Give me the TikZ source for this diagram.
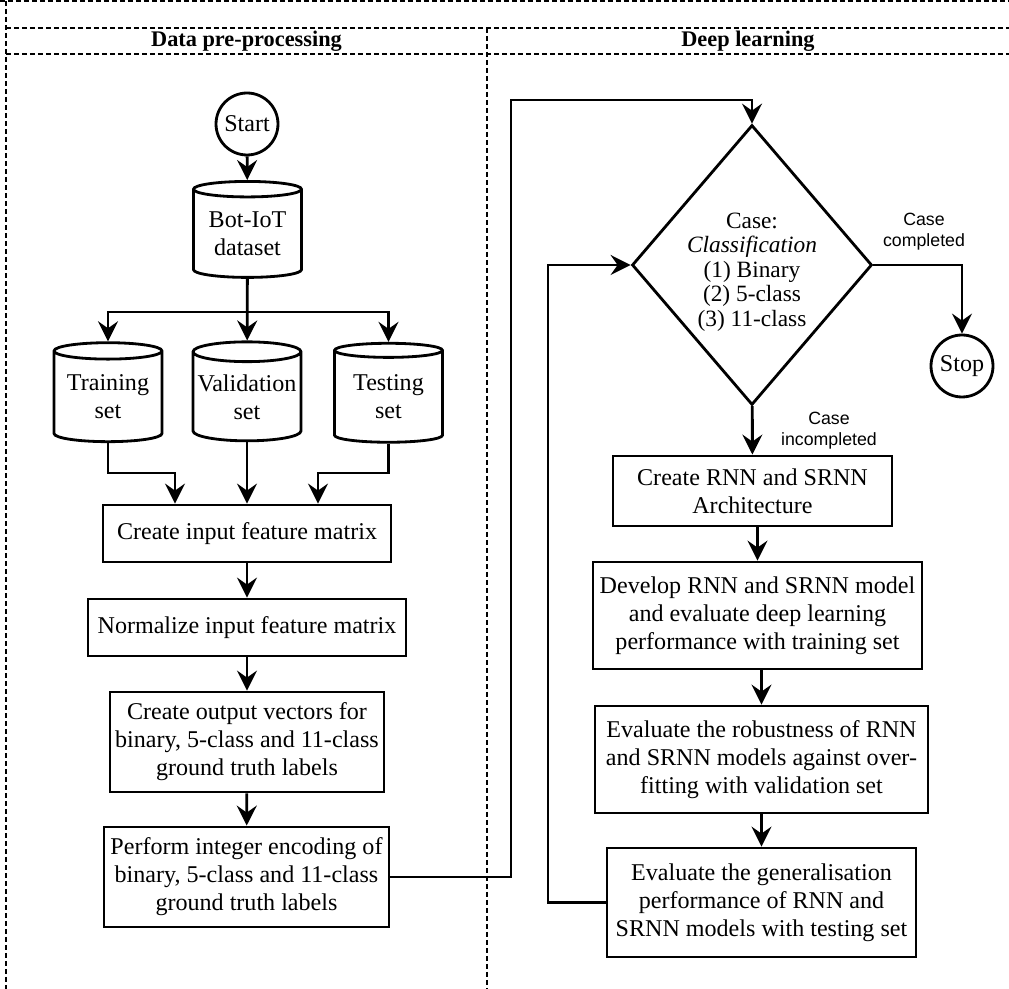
\documentclass[tikz,border=0pt]{standalone}
\usepackage{fontspec}
\setmainfont{Liberation Serif}
\setsansfont{Liberation Sans}
\usetikzlibrary{shapes.geometric, arrows.meta, positioning}
\newcommand{\boxfont}{\fontsize{13.7pt}{15.9pt}\selectfont}
\newcommand{\casefont}{\fontsize{13.3pt}{14pt}\selectfont}
\newcommand{\notefont}{\sffamily\fontsize{10.1pt}{11.9pt}\selectfont}
\tikzset{
    block/.style={
        rectangle,
        align=center,
        draw=black,
        line width=1.6pt,
        inner sep=1pt,
        font=\boxfont
    },
    database/.style={
        cylinder,
        shape border rotate=90,
        aspect=0.2,
        align=center,
        draw=black,
        line width=1.6pt,
        inner sep=0pt,
        minimum width=2.16cm,
        minimum height=1.98cm,
        font=\boxfont
    },
    terminal/.style={
        circle,
        draw=black,
        line width=1.6pt,
        inner sep=0pt,
        minimum size=1.24cm,
        font=\boxfont
    },
    decision/.style={
        diamond,
        draw=black,
        line width=1.6pt,
        inner sep=0pt,
        minimum width=4.8cm,
        minimum height=5.6cm
    },
    lane/.style={
        line width=0.7pt,
        dash pattern=on 0.1cm off 0.06cm
    },
    note/.style={
        align=center,
        font=\notefont
    },
    arrow/.style={
        line width=1.6pt,
        -{Stealth[length=0.4cm, width=0.4cm, inset=0.14cm]}
    }
}

\begin{document}
\begin{tikzpicture}[x=0.02cm, y=-0.02cm]
\useasboundingbox (0,0) rectangle (1009,989);

% Lanes
\draw[lane] (0,1) -- (1009,1);
\draw[lane] (6,1) -- (6,989);
\draw[lane] (6,28) -- (1009,28);
\draw[lane] (6,54) -- (1009,54);
\draw[lane] (487,28) -- (487,989);
\node (leftlane) at (246.5,41) {\fontsize{12.7pt}{14pt}\selectfont\bfseries Data pre-processing};
\node (rightlane) at (748,41) {\fontsize{12.7pt}{14pt}\selectfont\bfseries Deep learning};

% Nodes: data pre-processing
\node (start) [terminal] at (247,124) {Start};
\node (botiot) [database, minimum height=1.92cm] at (247.5,234) {Bot-IoT\\dataset};
\node (training) [database] at (108,397) {Training\\set};
\node (validation) [database] at (247,397) {Validation\\set};
\node (testing) [database] at (388.5,397) {Testing\\set};
\node (input) [block, minimum width=5.76cm, minimum height=1.14cm] at (247,533.5) {Create input feature matrix};
\node (normalize) [block, minimum width=6.36cm, minimum height=1.14cm] at (247,627.5) {Normalize input feature matrix};
\node (output) [block, minimum width=5.48cm, minimum height=2cm] at (247,742) {Create output vectors for\\binary, 5-class and 11-class\\ground truth labels};
\node (encoding) [block, minimum width=5.7cm, minimum height=2cm] at (246.5,877) {Perform integer encoding of\\binary, 5-class and 11-class\\ground truth labels};

% Nodes: deep learning
\node (case) [decision] at (752,265) {};
\node (casetext) [align=center, font=\casefont] at (752,272) {Case:\\\textit{Classification}\\(1) Binary\\(2) 5-class\\(3) 11-class};
\node (stop) [terminal] at (962,366) {Stop};
\node (rnn) [block, minimum width=5.58cm, minimum height=1.4cm] at (752.5,491) {Create RNN and SRNN\\Architecture};
\node (develop) [block, minimum width=6.58cm, minimum height=2.14cm] at (757.5,615.5) {Develop RNN and SRNN model\\and evaluate deep learning\\performance with training set};
\node (robust) [block, minimum width=6.66cm, minimum height=2.14cm] at (761.5,759.5) {Evaluate the robustness of RNN\\and SRNN models against over-\\fitting with validation set};
\node (general) [block, minimum width=6.18cm, minimum height=2.18cm] at (761.5,902.5) {Evaluate the generalisation\\performance of RNN and\\SRNN models with testing set};

% Labels
\node (donenote) [note] at (924,232) {Case\\completed};
\node (opennote) [note] at (829,431) {Case\\incompleted};

% Bends
\coordinate (split) at (247.5,312);
\coordinate (trainjoin) at (175,473);
\coordinate (testjoin) at (318,473);
\coordinate (upturn) at (511,100);
\coordinate (backturn) at (548,265);

% Arrows
\draw[arrow] (start) -- (botiot);
\draw[arrow] (botiot) -- (validation);
\draw[arrow] (split) -| (training);
\draw[arrow] (split) -| (testing);
\draw[arrow] (training) |- (trainjoin) -- (trainjoin |- input.north);
\draw[arrow] (testing) |- (testjoin) -- (testjoin |- input.north);
\draw[arrow] (validation) -- (input);
\draw[arrow] (input) -- (normalize);
\draw[arrow] (normalize) -- (output);
\draw[arrow] (output) -- (encoding);
\draw[arrow] (encoding) -| (upturn) -| (case);
\draw[arrow] (case.east) -| (stop);
\draw[arrow] (case) -- (rnn);
\draw[arrow] (rnn.south -| develop) -- (develop);
\draw[arrow] (develop.south -| robust) -- (robust);
\draw[arrow] (robust) -- (general);
\draw[arrow] (general) -| (backturn) -- (case.west);

\end{tikzpicture}
\end{document}
